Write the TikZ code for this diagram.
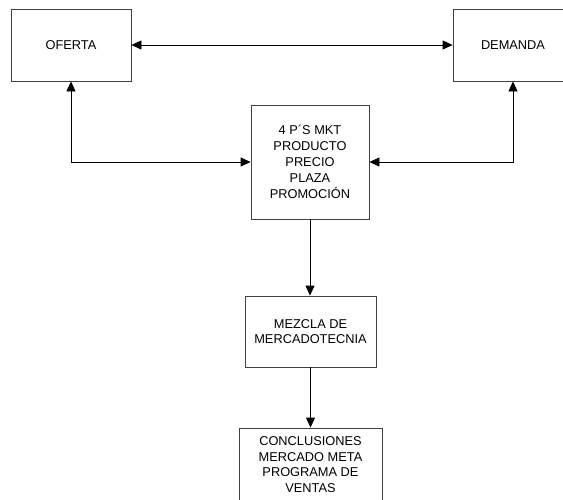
\documentclass[tikz,border=0pt]{standalone}
\usepackage{fontspec}
\setmainfont{Liberation Sans}
\usetikzlibrary{arrows.meta}
\tikzset{
  caja/.style={draw=black!75, line width=0.8pt, align=center, inner sep=0pt,
    font=\fontsize{12.8}{15.5}\selectfont},
  punta/.style={Triangle[length=10pt,width=9pt]},
  flecha/.style={line width=0.8pt, -{Triangle[length=10pt,width=9pt]}},
  dobleflecha/.style={line width=0.8pt, {Triangle[length=10pt,width=9pt]}-{Triangle[length=10pt,width=9pt]}},
}
\begin{document}
\begin{tikzpicture}[x=1pt,y=-1pt]
\useasboundingbox (0,0) rectangle (563,499);

\node[caja, minimum width=120pt, minimum height=72pt] (oferta) at (71,45) {OFERTA};
\node[caja, minimum width=120pt, minimum height=72pt] (demanda) at (513,45) {DEMANDA};
\node[caja, minimum width=118pt, minimum height=114pt, font=\fontsize{12.8}{16}\selectfont] (cuatrop) at (310,162)
  {4 P´S MKT\\PRODUCTO\\PRECIO\\PLAZA\\PROMOCIÓN};
\node[caja, minimum width=131pt, minimum height=71pt] (mezcla) at (310.5,331.5)
  {MEZCLA DE\\MERCADOTECNIA};
\node[caja, minimum width=143pt, minimum height=73pt] (conclusiones) at (310.5,464.5)
  {CONCLUSIONES\\MERCADO META\\PROGRAMA DE\\VENTAS};

\draw[dobleflecha] (oferta) -- (demanda);
\draw[dobleflecha] (oferta.south) |- (cuatrop.west);
\draw[dobleflecha] (demanda.south) |- (cuatrop.east);
\draw[flecha] (cuatrop.south) -- (cuatrop.south |- mezcla.north);
\draw[flecha] (mezcla.south) -- (mezcla.south |- conclusiones.north);
\end{tikzpicture}
\end{document}
